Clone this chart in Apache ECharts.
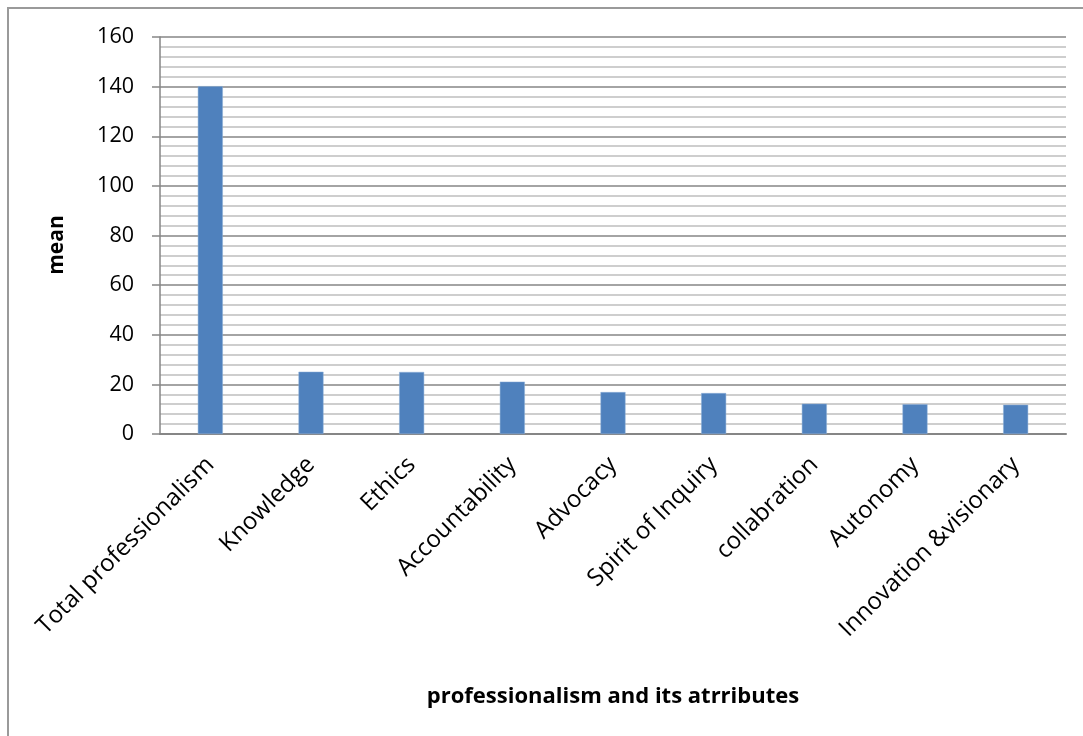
<!DOCTYPE html>
<html>
<head>
<meta charset="utf-8">
<script src="https://cdn.jsdelivr.net/npm/echarts@6/dist/echarts.min.js"></script>
<style>
html,body{margin:0;padding:0;background:#fff;}
#c{width:1083px;height:736px;}
</style>
</head>
<body>
<div id="c"></div>
<script>
const categories = ["Total professionalism","Knowledge","Ethics","Accountability","Advocacy","Spirit of Inquiry","collabration","Autonomy","Innovation &visionary"];
const meanValues = [140.2, 25.1, 25.0, 21.1, 16.9, 16.5, 12.2, 12.0, 11.8];
const yMin = 0, yMax = 160, yInterval = 20;
const xTitle = "professionalism and its atrributes";
const yTitle = "mean";

const font = "'Open Sans', Lato, 'Liberation Sans', sans-serif";
const chart = echarts.init(document.getElementById('c'), null, {renderer:'canvas'});
chart.setOption({
  animation:false,
  backgroundColor:'#ffffff',
  graphic:[{
    type:'polyline',
    shape:{points:[[8,736],[8,8],[1083,8]]},
    style:{stroke:'#9a9a9a',lineWidth:2,fill:null}
  },{
    type:'text',
    x:57, y:245, rotation:Math.PI/2,
    style:{text:yTitle,fontFamily:font,fontSize:21,fontWeight:'bold',fill:'#000',align:'center',verticalAlign:'middle'}
  }],
  grid:{left:160,right:17,top:37,bottom:302,containLabel:false},
  xAxis:{
    type:'category',
    data:categories,
    name:xTitle,
    nameLocation:'middle',
    nameGap:252,
    nameTextStyle:{fontFamily:font,fontSize:22,fontWeight:'bold',color:'#000'},
    axisLine:{show:true,lineStyle:{color:'#868686',width:2}},
    axisTick:{show:false},
    axisLabel:{rotate:45,fontFamily:font,fontSize:24,color:'#000',margin:27,interval:0}
  },
  yAxis:{
    type:'value',
    min:yMin,max:yMax,interval:yInterval,
    axisLine:{show:true,lineStyle:{color:'#868686',width:1.5}},
    axisTick:{show:true,length:8,inside:false,lineStyle:{color:'#868686',width:1.5}},
    axisLabel:{fontFamily:font,fontSize:21.5,color:'#000',margin:26},
    splitLine:{show:true,lineStyle:{color:'#868686',width:1.5}},
    minorTick:{show:false,splitNumber:5},
    minorSplitLine:{show:true,lineStyle:{color:'#bfbfbf',width:1.5}}
  },
  series:[{
    type:'bar',
    data:meanValues,
    barWidth:25,
    itemStyle:{color:'#4f81bd',borderColor:'#8fb0d8',borderWidth:0.5}
  }]
});
</script>
</body>
</html>
